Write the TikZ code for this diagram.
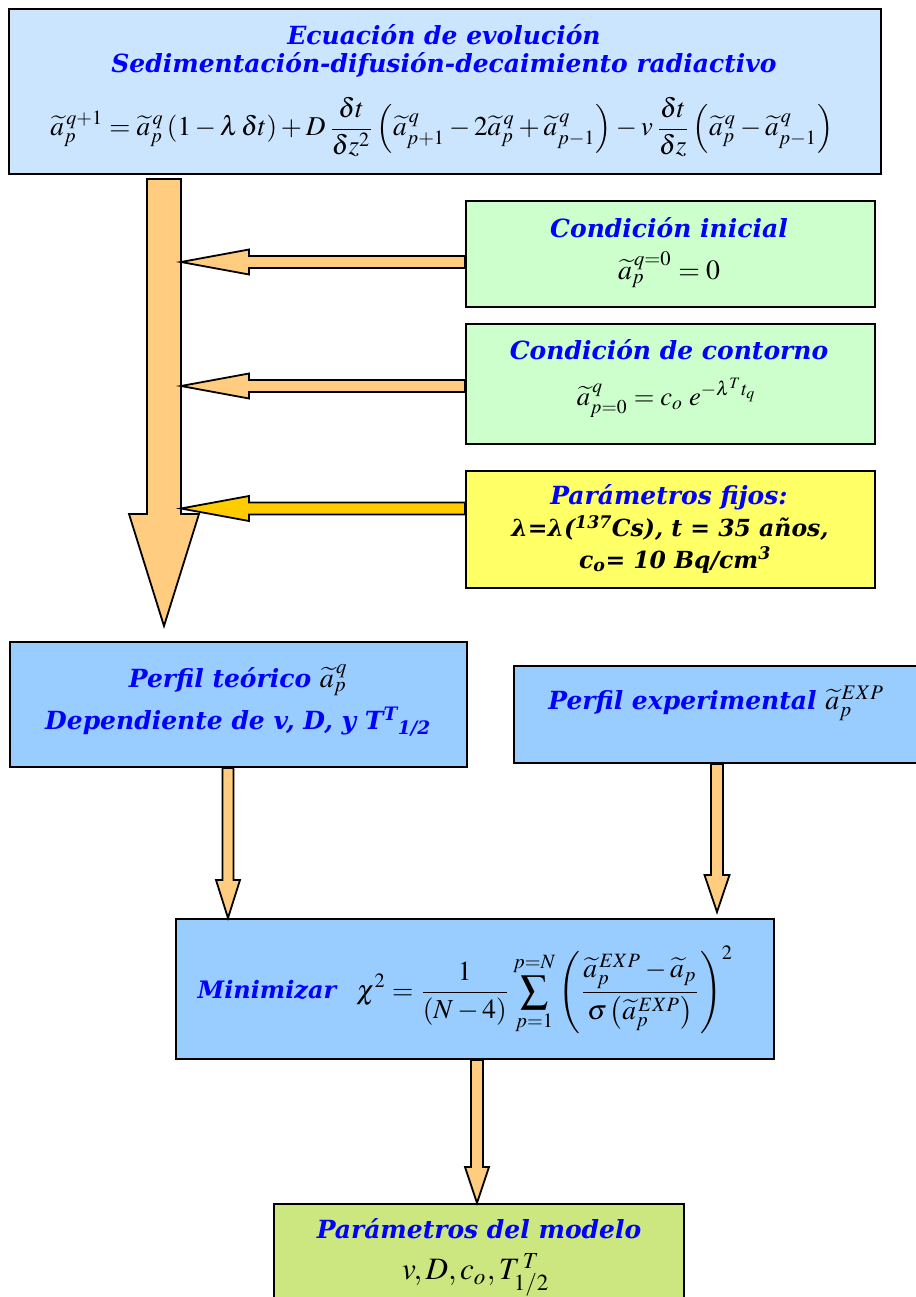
\documentclass[tikz,border=0pt]{standalone}
\usepackage{mathptmx}
\usepackage[no-math]{fontspec}
\setmainfont{DejaVu Serif}
\usepackage{graphicx}
\usetikzlibrary{calc}
\definecolor{topblue}{RGB}{204,229,255}
\definecolor{lgreen}{RGB}{204,255,204}
\definecolor{lyellow}{RGB}{255,255,102}
\definecolor{midblue}{RGB}{153,204,255}
\definecolor{lolive}{RGB}{204,230,128}
\definecolor{arrorange}{RGB}{255,204,128}
\definecolor{arrgold}{RGB}{255,204,0}
\definecolor{ttlblue}{RGB}{0,0,255}
\tikzset{
  box/.style={draw=black, line width=2pt, inner sep=0pt, anchor=north west},
  ttl/.style={font=\fontsize{25}{29}\selectfont\bfseries\itshape, text=ttlblue, inner sep=0pt},
  blk/.style={font=\fontsize{23.5}{27}\selectfont\bfseries\itshape, text=black, inner sep=0pt},
  eq/.style={inner sep=0pt, text=black},
  fat/.style={draw=black, line width=1.8pt, fill=arrorange, line join=miter},
}
\newcommand\blockarrow[6][]{%
  \path ($(#3)!#6!(#2)$) coordinate (ba-b);
  \draw[fat,#1] ($(#2)!#4!90:(#3)$) -- ($(ba-b)!#4!-90:(#2)$) -- ($(ba-b)!#5!-90:(#2)$) -- (#3)
    -- ($(ba-b)!#5!90:(#2)$) -- ($(ba-b)!#4!90:(#2)$) -- ($(#2)!#4!-90:(#3)$) -- cycle;}
\begin{document}
\begin{tikzpicture}[x=1pt,y=-1pt]
\useasboundingbox (0,0) rectangle (915,1297);
% boxes
\node[box, fill=topblue, minimum width=872pt, minimum height=165pt] (evo) at (8,8) {};
\node[box, fill=lgreen, minimum width=409pt, minimum height=106pt] (ci) at (465,200) {};
\node[box, fill=lgreen, minimum width=409pt, minimum height=120pt] (cc) at (465,323) {};
\node[box, fill=lyellow, minimum width=409pt, minimum height=117pt] (pf) at (465,470) {};
\node[box, fill=midblue, minimum width=457pt, minimum height=125pt] (pt) at (9,641) {};
\node[box, fill=midblue, minimum width=410pt, minimum height=97pt] (pe) at (513,665) {};
\node[box, fill=midblue, minimum width=598pt, minimum height=140pt] (mn) at (175,918) {};
\node[box, fill=lolive, minimum width=410pt, minimum height=100pt] (pm) at (273,1203) {};
% texts
\node[ttl] (evo1) at (444,35) {Ecuación de evolución};
\node[ttl] (evo2) at (444,65) {Sedimentación-difusión-decaimiento radiactivo};
\node[eq] (evo3) at (442,127) {\resizebox{783pt}{!}{$\displaystyle \widetilde{a}_p^{\,q+1}=\widetilde{a}_p^{\,q}\left(1-\lambda\,\delta t\right)+D\,\frac{\delta t}{\delta z^2}\left(\widetilde{a}_{p+1}^{\,q}-2\widetilde{a}_p^{\,q}+\widetilde{a}_{p-1}^{\,q}\right)-v\,\frac{\delta t}{\delta z}\left(\widetilde{a}_p^{\,q}-\widetilde{a}_{p-1}^{\,q}\right)$}};
\node[ttl] (ci1) at (669,228) {Condición inicial};
\node[eq] (ci2) at (669,270) {\resizebox{102pt}{!}{$\widetilde{a}_p^{\,q=0}=0$}};
\node[ttl] (cc1) at (669,350) {Condición de contorno};
\node[eq] (cc2) at (667,398) {\resizebox{180pt}{!}{$\widetilde{a}_{p=0}^{\,q}=c_o\;e^{-\lambda^T t_q}$}};
\node[ttl] (pf1) at (669,497) {Parámetros fijos:};
\node[blk] (pf2) at (670,528) {λ=λ(\textsuperscript{137}Cs), t = 35 años,};
\node[blk] (pf3) at (675,560) {c\textsubscript{o}= 10 Bq/cm\textsuperscript{3}};
\node[ttl] (pt1) at (238,680) {Perfil teórico {\color{black}\fontsize{28}{30}\selectfont$\widetilde{a}_p^{\,q}$}};
\node[ttl] (pt2) at (238,722) {Dependiente de v, D, y T\textsuperscript{T}\textsubscript{1/2}};
\node[ttl] (pe1) at (716,703) {Perfil experimental {\color{black}\fontsize{28}{30}\selectfont$\widetilde{a}_p^{\,EXP}$}};
\node[ttl, font=\fontsize{24}{28}\selectfont\bfseries\itshape] (mn1) at (267,990) {Minimizar};
\node[eq] (mn2) at (545,990) {\resizebox{377pt}{!}{$\displaystyle \chi^2=\frac{1}{(N-4)}\sum_{p=1}^{p=N}\left(\frac{\widetilde{a}_p^{\,EXP}-\widetilde{a}_p}{\sigma\left(\widetilde{a}_p^{\,EXP}\right)}\right)^{2}$}};
\node[ttl] (pm1) at (479,1229) {Parámetros del modelo};
\node[eq] (pm2) at (476,1275) {\resizebox{148pt}{!}{$v,D,c_o,T_{1/2}^{\,T}$}};
% big arrow
\coordinate (bigS) at ($(evo.south west)+(156,4)$);
\coordinate (bigE) at ($(bigS |- pt.north)+(0,-15)$);
\coordinate (shaftR) at ($(bigS)+(17,0)$);
\blockarrow{bigS}{bigE}{17pt}{35pt}{112pt}
% side arrows
\coordinate (a1s) at ($(ci.west)+(0,8)$);
\coordinate (a1e) at (shaftR |- a1s);
\blockarrow{a1s}{a1e}{6pt}{12.5pt}{68pt}
\coordinate (a2s) at ($(cc.west)+(0,2)$);
\coordinate (a2e) at (shaftR |- a2s);
\blockarrow{a2s}{a2e}{6pt}{12.5pt}{68pt}
\coordinate (a3s) at ($(pf.west)+(0,-21)$);
\coordinate (a3e) at (shaftR |- a3s);
\blockarrow[fill=arrgold]{a3s}{a3e}{6pt}{12.5pt}{68pt}
% down arrows
\coordinate (d1s) at ($(pt.south west)+(219,0)$);
\coordinate (d1e) at (d1s |- mn.north);
\blockarrow{d1s}{d1e}{5.5pt}{12pt}{38pt}
\coordinate (d2s) at ($(pe.south west)+(204,0)$);
\coordinate (d2e) at ($(d2s |- mn.north)+(0,-6)$);
\blockarrow{d2s}{d2e}{6pt}{12.5pt}{37pt}
\coordinate (d3s) at ($(mn.south west)+(302,0)$);
\coordinate (d3e) at (d3s |- pm.north);
\blockarrow{d3s}{d3e}{6pt}{12pt}{36pt}
\end{tikzpicture}
\end{document}
